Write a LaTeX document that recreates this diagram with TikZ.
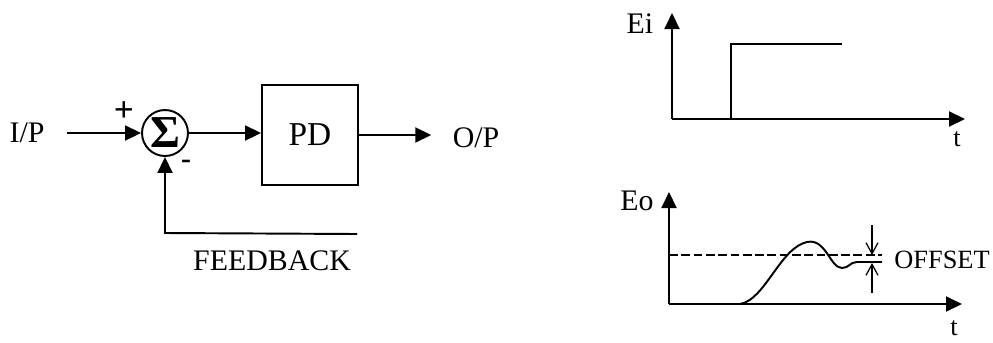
\documentclass[tikz,border=0pt]{standalone}
\usepackage{fontspec}
\setmainfont{Liberation Serif}
\usepackage{tikz}
\usetikzlibrary{arrows.meta,positioning,calc}

\begin{document}
\begin{tikzpicture}[
    x=0.02cm, y=-0.02cm,
    line width=1.1pt,
    lbl/.style={font=\fontsize{17}{19}\selectfont, inner sep=2pt},
    small/.style={font=\fontsize{15}{17}\selectfont, inner sep=1pt},
    box/.style={draw, minimum width=1.92cm, minimum height=2cm, font=\fontsize{19}{21}\selectfont},
    sumc/.style={draw, circle, minimum size=0.92cm, inner sep=0pt},
    arr/.style={-{Triangle[length=3.2mm, width=3mm]}},
    barb/.style={-{Straight Barb[length=2.2mm, width=2.4mm]}, line width=0.7pt}
  ]
    \useasboundingbox (0,0) rectangle (993,342);

    % loop: summing point and controller
    \node[lbl] (ip) at (27,133) {I/P};
    \node[sumc] (sum) at (165,133) {\fontsize{26}{26}\selectfont\bfseries Σ};
    \node[box] (pd) at (310,135) {PD};
    \node[lbl] (op) at (476,138) {O/P};
    \node[lbl] (plus) at (124,112) {\fontsize{20}{20}\selectfont\bfseries +};
    \node[lbl, inner sep=0pt] (minus) at (186,164) {\bfseries -};
    \coordinate (fb) at (165,233);
    \coordinate (fbend) at (357,234);
    \node[lbl] (fbtxt) at (272,261) {FEEDBACK};

    \draw[arr, shorten <=3.6mm] (ip) -- (sum);
    \draw[arr] (sum.east) -- (sum.east -| pd.west);
    \draw[arr, shorten >=3.4mm] (pd.east) -- (pd.east -| op.west);
    \draw[arr] (fbend) -- (fb) -- (sum.south);

    % input step
    \coordinate (eiO) at (672,119);
    \coordinate (eiY) at (672,13);
    \coordinate (eiX) at (965,119);
    \node[lbl] (ei) at (640,24) {Ei};
    \node[small] (ti) at (957,139) {t};
    \draw[arr] (eiO) -- (eiY);
    \draw[arr] (eiO) -- (eiX);
    \draw (731,119) -- (731,44) -- (842,44);

    % output response with offset
    \coordinate (eoO) at (669,304);
    \coordinate (eoY) at (669,192);
    \coordinate (eoX) at (962,304);
    \node[lbl] (eo) at (637,201) {Eo};
    \node[small] (to) at (954,328) {t};
    \draw[arr] (eoO) -- (eoY);
    \draw[arr] (eoO) -- (eoX);
    \draw[dashed, dash pattern=on 5pt off 2pt, line width=0.8pt] (669,255) -- (882,255);
    \draw (740,304) .. controls (765,300) and (780,248) .. (807,242)
          .. controls (826,238) and (830,268) .. (842,268)
          .. controls (849,268) and (850,262) .. (857,262) -- (882,262);
    \coordinate (offA) at (872,225);
    \coordinate (offB) at (872,293);
    \draw[barb] (offA) -- (872,255);
    \draw[barb] (offB) -- (872,263);
    \node[small] (offtxt) at (942,260) {OFFSET};
\end{tikzpicture}
\end{document}
